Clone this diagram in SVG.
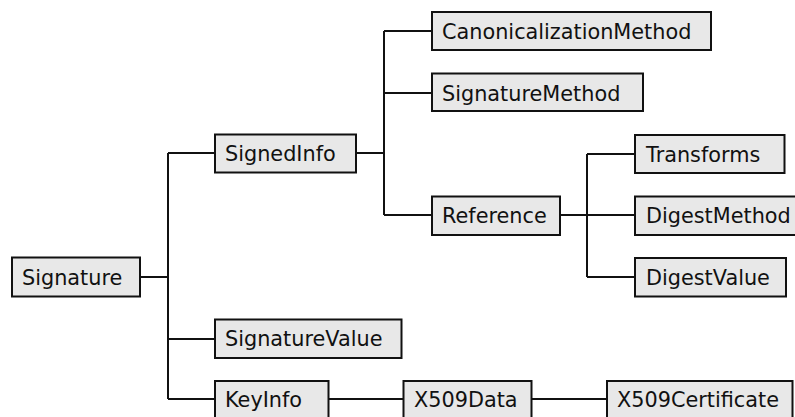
<svg xmlns="http://www.w3.org/2000/svg" width="795" height="417" viewBox="0 0 795 417">
<style>
.box{fill:#e8e8e8;stroke:#111;stroke-width:2}
.lbl{font-family:"DejaVu Sans",Verdana,sans-serif;font-size:20.8px;fill:#111}
.conn{fill:none;stroke:#111;stroke-width:2}
</style>
<rect width="795" height="417" fill="#fff"/>
<g id="connectors" class="conn">
<path d="M140 277H168M168 153V399M168 153H215M168 339H215M168 399H215"/>
<path d="M356 153H384M384 31V215M384 31H432M384 93H432M384 215H432"/>
<path d="M560 215H635M587 154V277M587 154H635M587 277H635"/>
<path d="M328 399H403M532 399H607"/>
</g>
<g id="n-signature"><rect class="box" x="12" y="257.5" width="128" height="39"/><text class="lbl" x="22" y="284.5">Signature</text></g>
<g id="n-signedinfo"><rect class="box" x="215" y="134.5" width="141" height="38"/><text class="lbl" x="225" y="161">SignedInfo</text></g>
<g id="n-signaturevalue"><rect class="box" x="215" y="319.5" width="186.5" height="38.5"/><text class="lbl" x="225" y="346">SignatureValue</text></g>
<g id="n-keyinfo"><rect class="box" x="215" y="381" width="113.5" height="40"/><text class="lbl" x="225" y="407">KeyInfo</text></g>
<g id="n-canon"><rect class="box" x="432" y="12" width="279" height="38"/><text class="lbl" x="442" y="39">CanonicalizationMethod</text></g>
<g id="n-sigmethod"><rect class="box" x="432" y="73.5" width="211" height="37.5"/><text class="lbl" x="442" y="100.5">SignatureMethod</text></g>
<g id="n-reference"><rect class="box" x="432" y="196.5" width="128" height="38.5"/><text class="lbl" x="442" y="223">Reference</text></g>
<g id="n-transforms"><rect class="box" x="635" y="135" width="149.5" height="38"/><text class="lbl" x="646" y="161.5">Transforms</text></g>
<g id="n-digestmethod"><rect class="box" x="635" y="196.5" width="170" height="38.5"/><text class="lbl" x="646" y="223">DigestMethod</text></g>
<g id="n-digestvalue"><rect class="box" x="635" y="258" width="151" height="38.5"/><text class="lbl" x="646" y="284.5">DigestValue</text></g>
<g id="n-x509data"><rect class="box" x="403.5" y="381" width="128" height="40"/><text class="lbl" x="414" y="407">X509Data</text></g>
<g id="n-x509cert"><rect class="box" x="607" y="381" width="185.5" height="40"/><text class="lbl" x="617" y="407">X509Certificate</text></g>
</svg>
